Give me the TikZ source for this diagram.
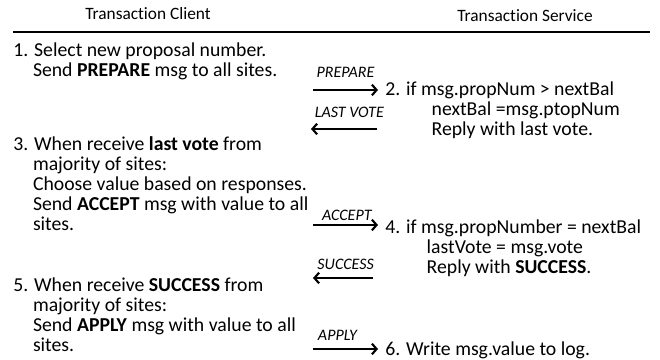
\documentclass[tikz,border=0pt]{standalone}
\usepackage{fontspec}
\setmainfont{Carlito}[Ligatures=NoCommon]
\usetikzlibrary{arrows.meta}
\newcommand{\hang}{\hspace*{1em}}
\newcommand{\deep}[1]{\hspace*{#1}}

\begin{document}
\begin{tikzpicture}[
  x=0.75pt, y=-0.75pt,
  txt/.style={anchor=base west, align=left, inner sep=0pt, font=\fontsize{14.8}{15}\selectfont},
  head/.style={anchor=base, inner sep=0pt, font=\fontsize{13}{15}\selectfont},
  msgline/.style={line width=1pt, -{Straight Barb[length=3.5pt,width=8pt,line width=1.6pt]}},
  msgback/.style={line width=1pt, {Straight Barb[length=3.5pt,width=8pt,line width=1.6pt]}-},
  msglabel/.style={midway, anchor=south, inner sep=0pt, font=\fontsize{12}{13}\selectfont\itshape}
]
  \useasboundingbox (0,0) rectangle (660,360);

  % column heads
  \node[head] (client) at (148,20) {Transaction Client};
  \node[head] (service) at (525,22) {Transaction Service};
  \coordinate (ruleL) at (13,32);
  \coordinate (ruleR) at (650,32);
  \draw[line width=1pt] (ruleL) -- (ruleR);

  % client steps (anchored at the last line)
  \node[txt] (s1) at (13,77) {1. Select new proposal number.\\
    \hang Send \textbf{PREPARE} msg to all sites.};
  \node[txt] (s3) at (13,230) {3. When receive \textbf{last vote} from\\
    \hang majority of sites:\\
    \hang Choose value based on responses.\\
    \hang Send \textbf{ACCEPT} msg with value to all\\
    \hang sites.};
  \node[txt] (s5) at (13,351) {5. When receive \textbf{SUCCESS} from\\
    \hang majority of sites:\\
    \hang Send \textbf{APPLY} msg with value to all\\
    \hang sites.};

  % service steps
  \node[txt] (s2) at (385,135) {2. if msg.propNum > nextBal\\
    \deep{2.35em}nextBal =msg.ptopNum\\
    \deep{2.35em}Reply with last vote.};
  \node[txt] (s4) at (385,273) {4. if msg.propNumber = nextBal\\
    \deep{2.1em}lastVote = msg.vote\\
    \deep{2.1em}Reply with \textbf{SUCCESS}.};
  \node[txt] (s6) at (385,355) {6. Write msg.value to log.};

  % messages
  \coordinate (prepL) at (313,90);  \coordinate (prepR) at (378,90);
  \coordinate (voteL) at (311,129); \coordinate (voteR) at (377,129);
  \coordinate (accL) at (313,225);  \coordinate (accR) at (378,225);
  \coordinate (sucL) at (313,278);  \coordinate (sucR) at (373,278);
  \coordinate (appL) at (313,349);  \coordinate (appR) at (378,349);

  \draw[msgline] (prepL) -- node[msglabel, yshift=9pt]{PREPARE} (prepR);
  \draw[msgback] (voteL) -- node[msglabel, yshift=8pt, xshift=4pt]{LAST VOTE} (voteR);
  \draw[msgline] (accL) -- node[msglabel, yshift=3pt, xshift=1pt]{ACCEPT} (accR);
  \draw[msgback] (sucL) -- node[msglabel, yshift=6pt, xshift=2pt]{SUCCESS} (sucR);
  \draw[msgline] (appL) -- node[msglabel, yshift=6pt, xshift=-6pt]{APPLY} (appR);
\end{tikzpicture}
\end{document}
